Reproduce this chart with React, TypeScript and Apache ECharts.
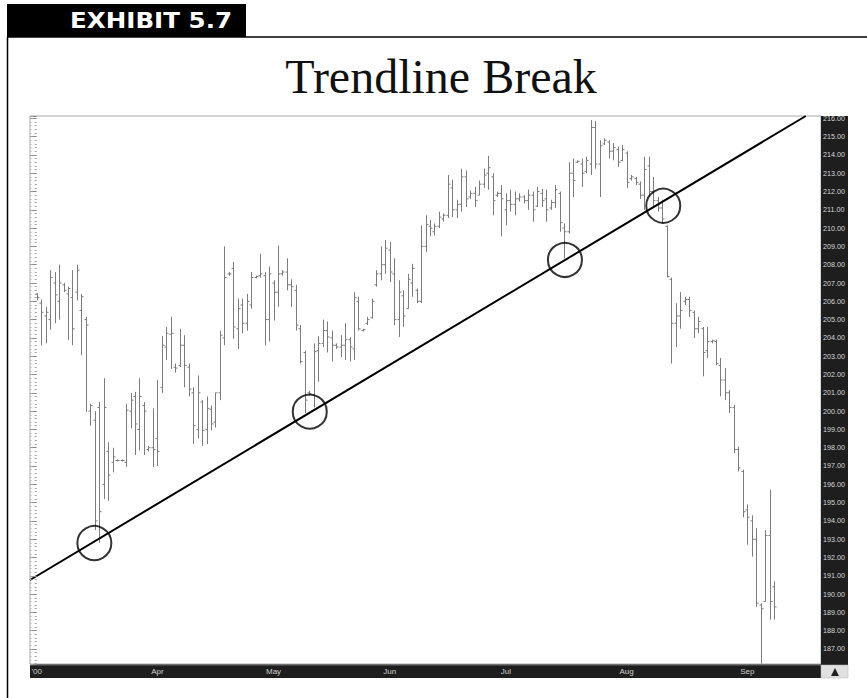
import React, { useEffect, useRef } from "react";
import * as echarts from "echarts";

// OHLC values, one bar per session (index 0..165)
const opens = [
  206.4, 205.9, 205.2, 205.0, 207.0, 206.0, 206.9, 206.4, 206.2, 206.5,
  205.5, 205.0, 200.0, 199.5, 200.2, 196.0, 197.8, 197.2, 197.3, 197.3,
  197.2, 200.0, 200.8, 199.0, 200.3, 197.9, 198.0, 198.5, 201.3, 203.5,
  204.2, 202.4, 202.5, 203.6, 202.4, 201.0, 199.0, 200.5, 199.0, 200.1,
  199.4, 201.0, 204.0, 207.5, 207.8, 204.5, 205.8, 204.8, 205.8, 207.3,
  207.4, 207.4, 205.0, 207.0, 206.5, 207.5, 207.6, 206.9, 206.6, 204.5,
  203.2, 201.0, 200.9, 203.3, 203.7, 204.4, 204.0, 203.6, 203.5, 203.6,
  203.9, 203.4, 206.0, 204.4, 204.8, 205.1, 206.9, 207.5, 208.0, 208.8,
  207.5, 205.0, 206.3, 205.6, 207.0, 206.6, 206.0, 209.0, 210.1, 209.8,
  210.1, 210.5, 210.7, 212.2, 211.0, 211.3, 212.8, 211.7, 211.9, 211.8,
  212.4, 213.0, 212.8, 211.8, 211.9, 211.0, 211.5, 211.3, 211.6, 211.7,
  211.5, 211.8, 211.2, 211.9, 211.6, 211.1, 211.4, 211.9, 210.0, 209.8,
  213.0, 213.6, 213.5, 213.1, 213.5, 215.5, 213.5, 214.6, 214.7, 214.2,
  214.3, 213.7, 214.1, 212.7, 212.7, 212.4, 211.8, 213.4, 212.0, 211.5,
  211.1, 210.1, 207.2, 204.8, 205.2, 206.0, 206.1, 205.4, 204.5, 204.5,
  203.3, 203.8, 203.8, 202.5, 201.7, 201.0, 200.2, 197.9, 196.7, 194.6,
  194.0, 193.0, 189.4, 189.6, 193.2, 190.4,
];
const highs = [
  206.45, 206.1, 205.7, 207.7, 207.6, 208.0, 207.0, 206.8, 207.7, 208.0,
  206.4, 205.15, 200.4, 200.0, 200.5, 201.8, 198.3, 198.0, 197.35, 197.35,
  200.4, 201.0, 201.05, 201.8, 200.5, 198.1, 200.15, 201.7, 204.1, 204.6,
  205.15, 202.6, 204.5, 204.15, 202.6, 201.3, 201.95, 200.6, 200.8, 200.3,
  201.0, 204.4, 209.0, 207.6, 208.15, 206.15, 206.15, 206.4, 207.6, 207.4,
  208.6, 207.6, 207.9, 207.15, 209.05, 207.7, 208.35, 207.2, 206.9, 204.7,
  203.3, 201.1, 203.7, 204.1, 205.0, 204.9, 204.4, 203.7, 204.15, 204.8,
  204.05, 206.5, 206.25, 204.5, 205.15, 206.15, 207.7, 209.0, 209.35, 209.25,
  208.35, 207.15, 206.6, 207.5, 208.05, 206.7, 210.15, 210.7, 210.45, 210.25,
  210.9, 210.8, 212.9, 212.65, 211.55, 213.25, 213.15, 212.05, 212.25, 212.6,
  213.25, 213.95, 213.0, 212.0, 212.35, 211.9, 212.1, 212.0, 211.9, 211.8,
  212.1, 212.0, 212.25, 212.15, 212.1, 211.55, 212.35, 212.0, 210.25, 213.6,
  213.8, 213.7, 213.8, 213.9, 215.9, 215.85, 214.8, 214.9, 214.8, 214.65,
  214.45, 214.55, 214.2, 212.9, 212.8, 212.55, 213.9, 213.9, 212.8, 211.7,
  211.55, 210.15, 207.3, 205.9, 206.5, 206.25, 206.25, 205.5, 205.15, 204.6,
  204.6, 203.9, 203.9, 202.9, 202.35, 201.15, 200.35, 198.05, 196.8, 194.9,
  194.3, 193.6, 189.5, 193.5, 195.7, 190.7,
];
const lows = [
  206.05, 203.6, 203.7, 204.45, 204.8, 205.0, 206.5, 203.9, 203.6, 206.05,
  203.05, 199.95, 199.2, 193.5, 192.8, 195.2, 195.1, 196.65, 197.25, 197.25,
  196.95, 199.05, 197.6, 197.85, 197.6, 197.8, 196.95, 197.0, 201.0, 202.8,
  202.3, 202.1, 202.4, 201.3, 200.8, 198.2, 198.5, 198.1, 198.2, 198.95,
  199.1, 200.6, 203.6, 207.4, 203.95, 203.4, 204.25, 204.4, 205.6, 207.25,
  207.3, 203.6, 203.8, 204.95, 205.7, 207.4, 206.6, 205.7, 204.4, 202.6,
  199.9, 200.85, 200.2, 201.6, 203.5, 203.2, 202.7, 203.4, 202.95, 202.8,
  202.7, 202.8, 204.4, 204.35, 204.7, 205.05, 206.8, 207.15, 207.5, 207.05,
  204.7, 204.05, 204.6, 205.6, 206.25, 205.9, 205.9, 208.7, 209.55, 209.6,
  210.0, 210.35, 210.55, 210.6, 210.55, 210.9, 211.15, 211.6, 211.15, 211.8,
  212.2, 212.1, 210.7, 211.7, 209.55, 210.15, 210.9, 210.7, 211.45, 211.35,
  211.0, 210.35, 211.15, 211.15, 210.35, 211.0, 211.1, 209.8, 208.35, 209.7,
  211.7, 213.55, 212.25, 213.0, 212.9, 213.25, 211.7, 214.55, 213.8, 213.7,
  213.35, 213.65, 212.2, 212.6, 212.35, 211.6, 211.0, 211.7, 211.15, 210.9,
  210.25, 207.3, 202.6, 203.5, 204.5, 205.8, 205.15, 204.0, 204.25, 201.9,
  202.9, 203.7, 202.5, 200.8, 200.6, 199.9, 197.7, 196.7, 194.2, 192.7,
  192.05, 189.3, 186.2, 189.6, 188.6, 188.6,
];
const closes = [
  206.2, 205.4, 205.4, 207.3, 206.35, 207.0, 206.6, 206.7, 204.5, 207.7,
  206.25, 204.7, 200.3, 194.0, 194.5, 200.2, 196.5, 197.5, 197.3, 197.3,
  200.05, 200.6, 199.3, 200.8, 200.0, 198.0, 197.9, 197.8, 203.6, 204.25,
  204.25, 202.35, 203.6, 202.5, 201.2, 199.2, 201.0, 198.95, 200.15, 199.3,
  201.0, 204.15, 207.3, 207.5, 204.6, 205.6, 204.8, 206.0, 207.3, 207.35,
  207.5, 205.0, 207.5, 206.5, 207.5, 207.6, 206.9, 206.8, 204.7, 202.7,
  200.6, 200.95, 203.25, 203.7, 204.4, 204.05, 203.6, 203.5, 203.6, 203.9,
  203.5, 206.2, 204.5, 204.45, 205.0, 206.0, 207.5, 208.0, 208.9, 207.6,
  205.0, 206.5, 205.2, 207.2, 207.8, 206.0, 209.0, 210.2, 210.0, 210.1,
  210.6, 210.7, 212.4, 211.0, 211.3, 212.8, 211.6, 211.9, 211.5, 212.4,
  212.9, 213.3, 211.5, 211.9, 211.6, 211.5, 211.3, 211.6, 211.7, 211.5,
  211.8, 211.0, 212.0, 211.5, 211.0, 211.4, 212.1, 210.3, 209.8, 213.0,
  212.6, 213.65, 213.0, 213.7, 215.5, 213.5, 214.5, 214.8, 214.2, 214.4,
  213.6, 214.3, 212.5, 212.8, 212.5, 211.8, 213.2, 212.0, 211.5, 211.1,
  210.5, 207.35, 204.8, 205.2, 205.5, 206.1, 205.5, 204.5, 204.9, 203.2,
  203.8, 203.85, 202.6, 201.7, 201.0, 200.2, 197.9, 196.9, 194.5, 194.2,
  193.0, 189.5, 189.2, 193.2, 189.6, 189.3,
];

// x-axis month labels and the bar index they sit on
const monthLabels = ["'00", "Apr", "May", "Jun", "Jul", "Aug", "Sep"];
const monthIdx = [0, 27, 53, 79, 105, 132, 159];

// trendline end points and the four circled touch points (bar index, price)
const trendline = [
  [-1.5, 190.77],
  [172.1, 216.126],
];
const circles = [
  [12.9, 192.79],
  [61.1, 199.97],
  [118.2, 208.26],
  [140.2, 211.22],
];

const isInt = (v: number) => Math.abs(v - Math.round(v)) < 1e-6;
const narrow = "'Liberation Sans Narrow', 'Arial Narrow', 'Liberation Sans', Arial, sans-serif";

export default function App() {
  const ref = useRef<HTMLDivElement>(null);
  useEffect(() => {
    const chart = echarts.init(ref.current!, null, { renderer: "svg" });
    const ohlc = opens.map((o, i) => [i, o, highs[i], lows[i], closes[i]]);
    const option: any = {
      animation: false,
      backgroundColor: "#ffffff",
      grid: {
        left: 30,
        top: 116,
        width: 791,
        height: 548,
        show: true,
        borderColor: "#a8a8a8",
        borderWidth: 1,
        backgroundColor: "#ffffff",
      },
      xAxis: {
        type: "value",
        min: -1.5,
        max: 175.5,
        minInterval: 1,
        maxInterval: 1,
        splitNumber: 177,
        axisLine: { show: false },
        axisTick: { show: false },
        splitLine: { show: false },
        axisLabel: {
          margin: 3,
          fontSize: 8,
          color: "#d0d0d0",
          fontFamily: narrow,
          formatter: (v: number) => {
            if (!isInt(v)) return "";
            const k = monthIdx.indexOf(Math.round(v));
            return k >= 0 ? monthLabels[k] : "";
          },
        },
        z: 10,
      },
      yAxis: [
        {
          type: "value",
          position: "right",
          min: 186.18,
          max: 216.126,
          minInterval: 1,
          maxInterval: 1,
          splitNumber: 30,
          axisLine: { show: false },
          splitLine: { show: false },
          axisTick: { show: true, inside: true, length: 4, lineStyle: { color: "#8a8a8a" } },
          minorTick: { show: true, splitNumber: 5, length: 2, lineStyle: { color: "#a0a0a0" } },
          axisLabel: {
            margin: 2,
            fontSize: 7.2,
            color: "#d8d8d8",
            fontFamily: narrow,
            formatter: (v: number) => (isInt(v) ? Math.round(v).toFixed(2) : ""),
          },
          z: 10,
        },
        {
          type: "value",
          position: "left",
          min: 186.18,
          max: 216.126,
          minInterval: 1,
          maxInterval: 1,
          splitNumber: 30,
          axisLine: { show: false },
          splitLine: { show: false },
          axisTick: { show: true, inside: true, length: 3, lineStyle: { color: "#a0a0a0" } },
          minorTick: { show: true, splitNumber: 5, length: 1.5, lineStyle: { color: "#b8b8b8" } },
          axisLabel: { show: false },
          z: 10,
        },
      ],
      graphic: [
        { type: "rect", shape: { x: 7, y: 4, width: 239, height: 33 }, style: { fill: "#000" }, z: 1 },
        {
          type: "text",
          x: 70,
          y: 20.5,
          scaleX: 1.17,
          style: {
            text: "EXHIBIT 5.7",
            fill: "#ffffff",
            font: "bold 21px 'DejaVu Sans', sans-serif",
            textAlign: "left",
            textVerticalAlign: "middle",
          },
          z: 2,
        },
        { type: "line", shape: { x1: 7, y1: 37, x2: 867, y2: 37 }, style: { stroke: "#000", lineWidth: 1.5 }, z: 1 },
        { type: "line", shape: { x1: 7.5, y1: 37, x2: 7.5, y2: 698 }, style: { stroke: "#000", lineWidth: 1.5 }, z: 1 },
        {
          type: "text",
          x: 441,
          y: 76,
          style: {
            text: "Trendline Break",
            fill: "#111",
            font: "48px 'Liberation Serif', 'Times New Roman', serif",
            textAlign: "center",
            textVerticalAlign: "middle",
          },
          z: 1,
        },
        { type: "rect", shape: { x: 821, y: 116, width: 27, height: 549 }, style: { fill: "#1e1e1e" }, z: 1 },
        { type: "rect", shape: { x: 30, y: 664.5, width: 791, height: 13.5 }, style: { fill: "#1e1e1e" }, z: 1 },
        { type: "line", shape: { x1: 30, y1: 665, x2: 821, y2: 665 }, style: { stroke: "#6a6a6a", lineWidth: 1 }, z: 1 },
        { type: "rect", shape: { x: 821, y: 665, width: 27, height: 13 }, style: { fill: "#e0e0e0", stroke: "#bbb", lineWidth: 0.5 }, z: 1 },
        {
          type: "polygon",
          shape: { points: [[831, 676], [835, 668], [839, 676]] },
          style: { fill: "#222" },
          z: 2,
        },
      ],
      series: [
        {
          type: "custom",
          data: ohlc,
          encode: { x: 0, y: [1, 2, 3, 4] },
          silent: true,
          z: 3,
          renderItem: (params: any, api: any) => {
            const x = api.value(0);
            const pO = api.coord([x, api.value(1)]);
            const pH = api.coord([x, api.value(2)]);
            const pL = api.coord([x, api.value(3)]);
            const pC = api.coord([x, api.value(4)]);
            const cx = Math.round(pH[0]) + 0.5;
            const style = { stroke: "#7c7c7c", lineWidth: 1 };
            let y1 = pH[1];
            let y2 = pL[1];
            if (y2 - y1 < 2) {
              const m = (y1 + y2) / 2;
              y1 = m - 1;
              y2 = m + 1;
            }
            return {
              type: "group",
              children: [
                { type: "line", shape: { x1: cx, y1, x2: cx, y2 }, style },
                { type: "line", shape: { x1: cx - 2, y1: pO[1], x2: cx, y2: pO[1] }, style },
                { type: "line", shape: { x1: cx, y1: pC[1], x2: cx + 2, y2: pC[1] }, style },
              ],
            };
          },
        },
        {
          type: "line",
          data: trendline,
          symbol: "none",
          silent: true,
          lineStyle: { color: "#000", width: 2 },
          z: 5,
        },
        {
          type: "scatter",
          data: circles,
          symbol: "circle",
          symbolSize: 34,
          silent: true,
          itemStyle: { color: "rgba(0,0,0,0)", borderColor: "#000", borderWidth: 2 },
          z: 6,
        },
      ],
    };
    chart.setOption(option);
    return () => chart.dispose();
  }, []);
  return (
    <div
      ref={ref}
      style={{ position: "fixed", left: 0, top: 0, width: 867, height: 698, background: "#fff" }}
    />
  );
}
